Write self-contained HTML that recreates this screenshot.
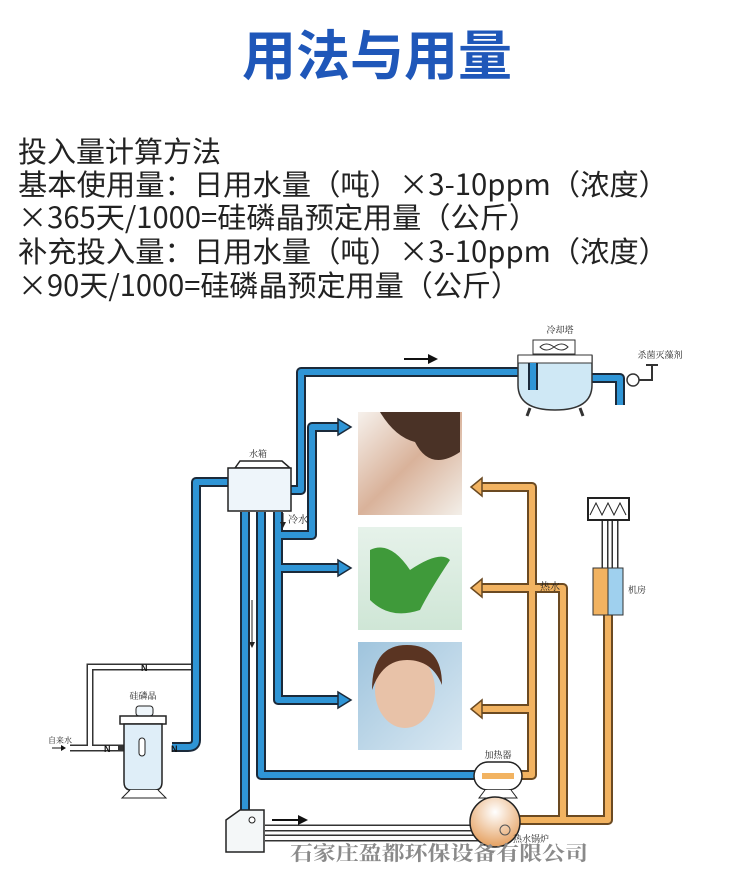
<!DOCTYPE html>
<html><head><meta charset="utf-8"><style>
html,body{margin:0;padding:0;background:#fff;}
svg{display:block;}
</style></head><body>
<svg width="750" height="881" viewBox="0 0 750 881" xmlns="http://www.w3.org/2000/svg">
<defs>
<linearGradient id="g1" x1="0" y1="0" x2="1" y2="1"><stop offset="0" stop-color="#f6f1ec"/><stop offset="0.5" stop-color="#d9b29a"/><stop offset="1" stop-color="#f3efe9"/></linearGradient>
<linearGradient id="g2" x1="0" y1="0" x2="0" y2="1"><stop offset="0" stop-color="#e6f2ea"/><stop offset="1" stop-color="#cfe6d6"/></linearGradient>
<linearGradient id="g3" x1="0" y1="0" x2="1" y2="1"><stop offset="0" stop-color="#9fc4dd"/><stop offset="1" stop-color="#d9e8f2"/></linearGradient>
<radialGradient id="boil" cx="0.5" cy="0.3" r="0.7"><stop offset="0" stop-color="#fff"/><stop offset="1" stop-color="#e5a060"/></radialGradient>
</defs>
<text x="377" y="75" text-anchor="middle" font-family="Noto Sans CJK SC, sans-serif" font-weight="bold" font-size="54" fill="#1f57b9">用法与用量</text>
<g font-family="Noto Sans CJK SC, sans-serif" font-size="29" fill="#222">
<text x="18" y="162">投入量计算方法</text>
<text x="18" y="195" textLength="650" lengthAdjust="spacingAndGlyphs">基本使用量：日用水量（吨）×3-10ppm（浓度）</text>
<text x="18" y="228" textLength="520" lengthAdjust="spacingAndGlyphs">×365天/1000=硅磷晶预定用量（公斤）</text>
<text x="18" y="262" textLength="650" lengthAdjust="spacingAndGlyphs">补充投入量：日用水量（吨）×3-10ppm（浓度）</text>
<text x="18" y="296" textLength="502" lengthAdjust="spacingAndGlyphs">×90天/1000=硅磷晶预定用量（公斤）</text>
</g>
<!-- photos -->
<rect x="358" y="412" width="104" height="103" fill="url(#g1)"/>
<path d="M380 412 h80 v40 q-30 20 -45 -10 q-20 -5 -35 -30z" fill="#4a3226"/>
<rect x="358" y="527" width="104" height="103" fill="url(#g2)"/>
<path d="M370 550 q20 -10 40 20 q30 -20 40 -10 q-20 30 -30 50 q-30 10 -50 -10z" fill="#3f9a3a"/>
<rect x="358" y="642" width="104" height="108" fill="url(#g3)"/>
<ellipse cx="405" cy="690" rx="30" ry="38" fill="#e8c2a8"/>
<path d="M372 690 q0 -45 35 -45 q35 0 35 40 q-10 -25 -35 -25 q-25 0 -35 30z" fill="#5a3422"/>
<!-- gray pipes -->
<g fill="none" stroke="#333" stroke-width="7"><path d="M193 667 H90 V748 H118"/><path d="M160 748 H118"/><path d="M265 828 H480"/><path d="M265 838 H480"/><path d="M70 748 H90"/><path d="M605 520 V570"/><path d="M615 520 V570"/></g>
<g fill="none" stroke="#fff" stroke-width="4"><path d="M193 667 H90 V748 H118"/><path d="M265 828 H480"/><path d="M265 838 H480"/><path d="M70 748 H90"/><path d="M605 520 V570"/><path d="M615 520 V570"/></g>
<!-- blue pipes -->
<g fill="none" stroke-linejoin="round" stroke-linecap="butt">
<g stroke="#1b2a3a" stroke-width="10">
<path d="M228 482 H196 V740 Q196 747 188 747 H172"/>
<path d="M291 490 H301 V372 H533 V392"/>
<path d="M245 512 V812"/>
<path d="M261 512 V775 H478"/>
<path d="M278 512 V700 H340"/>
<path d="M278 568 H340"/>
<path d="M278 535 H312 V427 H340"/>
<path d="M586 378 H620 V405"/>
</g>
<g stroke="#2f95d6" stroke-width="6">
<path d="M228 482 H196 V740 Q196 747 188 747 H172"/>
<path d="M291 490 H301 V372 H533 V392"/>
<path d="M245 512 V812"/>
<path d="M261 512 V775 H478"/>
<path d="M278 512 V700 H340"/>
<path d="M278 568 H340"/>
<path d="M278 535 H312 V427 H340"/>
<path d="M586 378 H620 V405"/>
</g>
</g>
<g fill="#2f95d6" stroke="#1b2a3a" stroke-width="1.5">
<path d="M338 419 L351 427 L338 435z"/><path d="M338 560 L351 568 L338 576z"/><path d="M338 692 L351 700 L338 708z"/>
</g>
<!-- orange pipes -->
<g fill="none" stroke-linejoin="round">
<g stroke="#6b4a22" stroke-width="10">
<path d="M520 775 H532 V487 H480"/><path d="M532 588 H480"/><path d="M532 709 H480"/>
<path d="M520 820 H608 V615"/><path d="M563 820 V588 H532"/>
</g>
<g stroke="#f2b361" stroke-width="6">
<path d="M520 775 H532 V487 H480"/><path d="M532 588 H480"/><path d="M532 709 H480"/>
<path d="M520 820 H608 V615"/><path d="M563 820 V588 H532"/>
</g>
</g>
<g fill="#f2b361" stroke="#6b4a22" stroke-width="1.5">
<path d="M482 478 L471 487 L482 496z"/><path d="M482 579 L471 588 L482 597z"/><path d="M482 700 L471 709 L482 718z"/>
</g>
<!-- tank -->
<path d="M235 468 L240 461 H282 L290 468z" fill="#fff" stroke="#222" stroke-width="1.5"/>
<rect x="228" y="468" width="63" height="43" fill="#eef5fa" stroke="#222" stroke-width="1.5"/>
<text x="258" y="457" font-family="Noto Serif CJK SC, serif" font-size="9" text-anchor="middle" fill="#222">水箱</text>
<text x="288" y="523" font-family="Noto Serif CJK SC, serif" font-size="10" fill="#222">冷水</text>
<path d="M283 513 V525" stroke="#222"/><path d="M280 522 L283 528 L286 522z" fill="#222"/>
<path d="M252 600 V645" stroke="#222"/><path d="M249 642 L252 648 L255 642z" fill="#222"/>
<!-- top arrow -->
<path d="M404 359 H430" stroke="#111" stroke-width="2"/><path d="M428 354 L438 359 L428 364z" fill="#111"/>
<!-- cooling tower -->
<rect x="533" y="340" width="42" height="14" fill="#fff" stroke="#333"/>
<path d="M540 347 q6 -6 14 0 q8 6 14 0 q-6 -6 -14 0 q-8 6 -14 0z" fill="none" stroke="#333"/>
<path d="M518 356 H592 V385 Q592 410 555 410 Q518 410 518 385z" fill="#cfe8f5" stroke="#333" stroke-width="1.5"/>
<rect x="518" y="355" width="74" height="8" fill="#fff" stroke="#333"/>
<path d="M533 363 V390" stroke="#1b2a3a" stroke-width="10"/><path d="M533 363 V390" stroke="#2f95d6" stroke-width="6"/>
<path d="M530 408 l-3 8 M580 408 l3 8" stroke="#333" stroke-width="3"/>
<text x="560" y="333" font-family="Noto Serif CJK SC, serif" font-size="9" text-anchor="middle" fill="#222">冷却塔</text>
<text x="660" y="358" font-family="Noto Serif CJK SC, serif" font-size="9" text-anchor="middle" fill="#222">杀菌灭藻剂</text>
<circle cx="633" cy="380" r="6" fill="#fff" stroke="#333" stroke-width="1.5"/>
<path d="M639 380 H652 V365 M646 365 H658" fill="none" stroke="#333" stroke-width="2"/>
<!-- machine room -->
<rect x="588" y="498" width="41" height="22" fill="#fff" stroke="#222" stroke-width="2"/>
<path d="M590 515 l6 -12 l6 12 l6 -12 l6 12 l6 -12 l6 12" fill="none" stroke="#222"/>
<rect x="593" y="568" width="15" height="47" fill="#f2b361" stroke="#333"/>
<rect x="608" y="568" width="15" height="47" fill="#9fd0ee" stroke="#333"/>
<text x="628" y="593" font-family="Noto Serif CJK SC, serif" font-size="9" fill="#222">机房</text>
<text x="540" y="590" font-family="Noto Serif CJK SC, serif" font-size="10" fill="#222">热水</text>
<!-- heater -->
<rect x="474" y="762" width="48" height="28" rx="14" fill="#fff" stroke="#222" stroke-width="1.5"/>
<path d="M482 776 h32" stroke="#f2b361" stroke-width="6"/>
<path d="M485 790 l-6 8 h38 l-6 -8" fill="#fff" stroke="#222"/>
<text x="498" y="758" font-family="Noto Serif CJK SC, serif" font-size="9" text-anchor="middle" fill="#222">加热器</text>
<!-- boiler -->
<circle cx="495" cy="822" r="25" fill="url(#boil)" stroke="#222" stroke-width="1.5"/>
<circle cx="505" cy="830" r="5" fill="none" stroke="#555"/>
<text x="513" y="842" font-family="Noto Serif CJK SC, serif" font-size="9" fill="#222">热水锅炉</text>
<!-- small tank -->
<path d="M226 820 L240 810 H264 V852 H226z" fill="#f4f7f8" stroke="#222" stroke-width="1.5"/>
<circle cx="252" cy="820" r="3" fill="#fff" stroke="#222"/>
<path d="M272 820 H300" stroke="#111" stroke-width="2"/><path d="M298 815 L308 820 L298 825z" fill="#111"/>
<!-- filter -->
<rect x="136" y="706" width="17" height="10" rx="3" fill="#eef5fa" stroke="#222"/>
<rect x="120" y="716" width="46" height="8" fill="#fff" stroke="#222" stroke-width="1.5"/>
<path d="M124 724 H162 V782 Q162 790 155 790 H131 Q124 790 124 782z" fill="#dfeef8" stroke="#222" stroke-width="1.5"/>
<rect x="139" y="738" width="6" height="18" rx="3" fill="#fff" stroke="#222"/>
<path d="M130 790 l-8 8 h44 l-8 -8" fill="#fff" stroke="#222"/>
<text x="143" y="699" font-family="Noto Serif CJK SC, serif" font-size="9" text-anchor="middle" fill="#222">硅磷晶</text>
<text x="48" y="743" font-family="Noto Serif CJK SC, serif" font-size="8" fill="#222">自来水</text>
<path d="M52 748 H62" stroke="#111"/><path d="M61 745 L66 748 L61 751z" fill="#111"/>
<g font-family="Liberation Sans, sans-serif" font-size="9" font-weight="bold" fill="#111"><text x="104" y="752">N</text><text x="171" y="752">N</text><text x="141" y="671">N</text></g>
<text x="439" y="860" text-anchor="middle" font-family="Noto Serif CJK SC, serif" font-weight="bold" font-size="20" fill="#8a8a8a" textLength="298" lengthAdjust="spacingAndGlyphs">石家庄盈都环保设备有限公司</text>
</svg>
</body></html>
